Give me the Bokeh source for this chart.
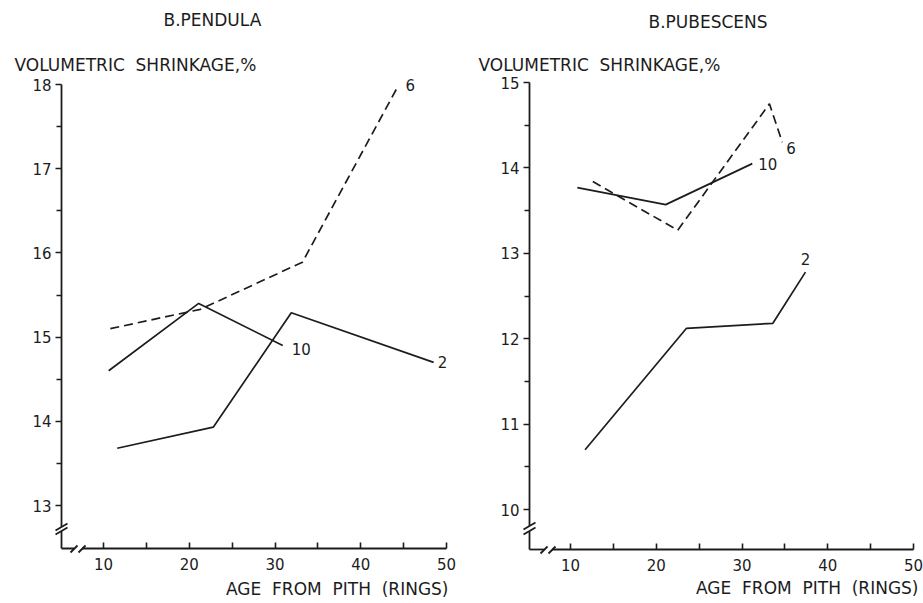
from bokeh.plotting import figure
from bokeh.layouts import row
from bokeh.models import Range1d, FixedTicker, Label
from bokeh.embed import file_html
from bokeh.resources import INLINE

# ---------------- data ----------------
AGE_TICKS = [10, 20, 30, 40, 50]
AGE_MINOR = [15, 25, 35, 45]

# B. pendula
pend_age_2 = [11.6, 22.8, 31.9, 48.5]
pend_shr_2 = [13.68, 13.93, 15.29, 14.70]
pend_age_6 = [10.8, 21.3, 33.2, 44.4]
pend_shr_6 = [15.10, 15.33, 15.89, 17.99]
pend_age_10 = [10.6, 21.1, 30.9]
pend_shr_10 = [14.60, 15.40, 14.90]
pend_yticks = [13, 14, 15, 16, 17, 18]
pend_yminor = [13.5, 14.5, 15.5, 16.5, 17.5]

# B. pubescens
pub_age_2 = [11.7, 23.5, 33.6, 37.4]
pub_shr_2 = [10.70, 12.12, 12.18, 12.78]
pub_age_6 = [12.6, 22.5, 33.2, 34.7]
pub_shr_6 = [13.84, 13.27, 14.75, 14.30]
pub_age_10 = [10.8, 21.1, 31.2]
pub_shr_10 = [13.77, 13.57, 14.05]
pub_yticks = [10, 11, 12, 13, 14, 15]
pub_yminor = [10.5, 11.5, 12.5, 13.5, 14.5]

SP = " \u00a0"  # wide word gap as in the original lettering
Y_TITLE = "VOLUMETRIC" + SP + "SHRINKAGE,%"
X_TITLE = "AGE" + SP + "FROM" + SP + "PITH" + SP + "(RINGS)"

INK = "#1c1c1c"
FONT = "DejaVu Sans"


def make_panel(title, series, yticks, yminor, ox, W, H, px10, kx, pytop, ky,
               corner, ybreak, xbreak, name_offsets, title_pos, ylab_pos, xlab_pos):
    ytop = yticks[-1]

    # the frame fills the whole figure; page pixel -> data
    def PX(px):
        return AGE_TICKS[0] + (px - px10) / kx

    def PY(py):
        return ytop - (py - pytop) / ky

    p = figure(width=W, height=H,
               x_range=Range1d(PX(ox), PX(ox + W)), y_range=Range1d(PY(H), PY(0)),
               output_backend="svg", toolbar_location=None, title=None,
               min_border=0, min_border_left=0, min_border_right=0,
               min_border_top=0, min_border_bottom=0,
               background_fill_color="white", border_fill_color="white",
               outline_line_color=None)
    p.grid.visible = False

    cx, cy = corner
    xa, ya = PX(cx), PY(cy)

    for ax in (p.xaxis, p.yaxis):
        ax.axis_line_color = None
        ax.major_tick_line_color = INK
        ax.minor_tick_line_color = INK
        ax.major_tick_line_width = 1.6
        ax.minor_tick_line_width = 1.6
        ax.major_label_text_font = FONT
        ax.major_label_text_font_size = "15px"
        ax.major_label_text_color = INK
    p.yaxis.fixed_location = xa
    p.xaxis.fixed_location = ya
    p.yaxis.ticker = FixedTicker(ticks=yticks, minor_ticks=yminor)
    p.yaxis.major_tick_out = 6
    p.yaxis.major_tick_in = 0
    p.yaxis.minor_tick_out = 5
    p.yaxis.minor_tick_in = 0
    p.yaxis.major_label_standoff = 4
    p.xaxis.ticker = FixedTicker(ticks=AGE_TICKS, minor_ticks=AGE_MINOR)
    p.xaxis.major_tick_in = 6
    p.xaxis.major_tick_out = 0
    p.xaxis.minor_tick_in = 6
    p.xaxis.minor_tick_out = 0
    p.xaxis.major_label_standoff = 9

    # axis lines with breaks (pixel offsets from the corner)
    x0s, y0s, x1s, y1s = [], [], [], []

    def seg(ax_, ay_, bx_, by_):
        x0s.append(ax_); y0s.append(ay_); x1s.append(bx_); y1s.append(by_)

    s1, s2 = ybreak
    seg(xa, ytop, xa, PY(cy - s1))
    seg(xa, PY(cy - s2), xa, ya)
    seg(PX(cx - 6), PY(cy - s1 + 3.5), PX(cx + 6), PY(cy - s1 - 3.5))
    seg(PX(cx - 6), PY(cy - s2 + 3.5), PX(cx + 6), PY(cy - s2 - 3.5))
    b1, b2 = xbreak
    seg(xa, ya, PX(cx + b1), ya)
    seg(PX(cx + b2), ya, AGE_TICKS[-1], ya)
    seg(PX(cx + b1 - 3.5), PY(cy + 4), PX(cx + b1 + 3.5), PY(cy - 3))
    seg(PX(cx + b2 - 3.5), PY(cy + 4), PX(cx + b2 + 3.5), PY(cy - 3))
    p.segment(x0s, y0s, x1s, y1s, line_color=INK, line_width=1.8)

    # data lines and their names
    for (name, xs, ys), (dx, dy, align) in zip(series, name_offsets):
        dash = "9 5" if name == "6" else "solid"
        p.line(xs, ys, line_color=INK, line_width=1.7, line_dash=dash)
        p.add_layout(Label(x=xs[-1] + dx / kx, y=ys[-1] - dy / ky, text=name,
                           text_font=FONT, text_font_size="15px", text_color=INK,
                           text_baseline="middle", text_align=align))

    # texts
    p.add_layout(Label(x=PX(title_pos[0]), y=PY(title_pos[1]), text=title, text_font=FONT,
                       text_font_size="17px", text_color=INK,
                       text_baseline="middle", text_align="left"))
    p.add_layout(Label(x=PX(ylab_pos[0]), y=PY(ylab_pos[1]), text=Y_TITLE,
                       text_font=FONT, text_font_size="17px", text_color=INK,
                       text_baseline="middle", text_align="left"))
    p.add_layout(Label(x=PX(xlab_pos[0]), y=PY(xlab_pos[1]), text=X_TITLE,
                       text_font=FONT, text_font_size="17px", text_color=INK,
                       text_baseline="middle", text_align="right"))
    return p


left = make_panel(
    "B.PENDULA",
    [("2", pend_age_2, pend_shr_2), ("6", pend_age_6, pend_shr_6), ("10", pend_age_10, pend_shr_10)],
    pend_yticks, pend_yminor,
    ox=0, W=466, H=603, px10=103, kx=8.575, pytop=84, ky=84.2,
    corner=(61, 548), ybreak=(21.5, 17.5), xbreak=(12.5, 20.5),
    name_offsets=[(4, 0, "left"), (7, 0, "left"), (9, 3, "left")],
    title_pos=(163, 19), ylab_pos=(14, 64), xlab_pos=(448, 588),
)

right = make_panel(
    "B.PUBESCENS",
    [("2", pub_age_2, pub_shr_2), ("6", pub_age_6, pub_shr_6), ("10", pub_age_10, pub_shr_10)],
    pub_yticks, pub_yminor,
    ox=466, W=457, H=603, px10=570, kx=8.575, pytop=82, ky=85.4,
    corner=(529, 549), ybreak=(23.5, 18.5), xbreak=(14.5, 22.5),
    name_offsets=[(0, -13, "center"), (4, 6, "left"), (6, 0, "left")],
    title_pos=(648, 21), ylab_pos=(478, 64), xlab_pos=(918, 587),
)

layout = row(left, right)
open("out.html", "w").write(file_html(layout, INLINE))
